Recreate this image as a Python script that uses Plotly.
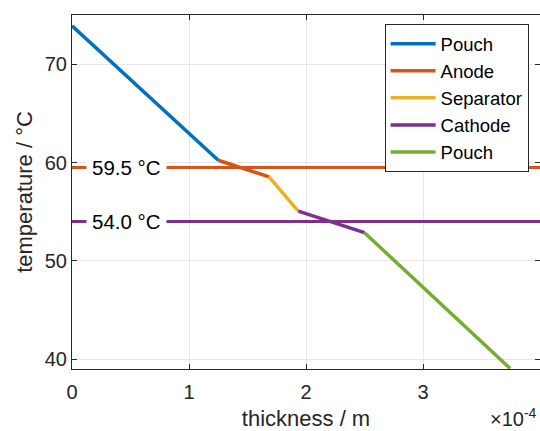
import plotly.graph_objects as go

# Data (thickness in m, temperature in °C)
segment_names = ["Pouch", "Anode", "Separator", "Cathode", "Pouch"]
segment_x = [
    [0.0, 1.25e-4],
    [1.25e-4, 1.684e-4],
    [1.684e-4, 1.934e-4],
    [1.934e-4, 2.50e-4],
    [2.50e-4, 3.745e-4],
]
segment_y = [
    [73.9, 60.23],
    [60.23, 58.54],
    [58.54, 55.06],
    [55.06, 52.86],
    [52.86, 39.05],
]
colors = ["#0072BD", "#D95319", "#EDB120", "#7E2F8E", "#77AC30"]

ref_values = [59.5, 54.0]
ref_colors = ["#D95319", "#7E2F8E"]
ref_labels = ["59.5 °C", "54.0 °C"]
ref_label_x = 0.465e-4

x_ticks = [0, 1e-4, 2e-4, 3e-4, 4e-4]
x_ticktext = ["0", "1", "2", "3", "4"]
y_ticks = [40, 50, 60, 70]

FONT = "Liberation Sans, Arial, Helvetica, sans-serif"
AX = "#262626"

fig = go.Figure()

for v, c in zip(ref_values, ref_colors):
    fig.add_trace(go.Scatter(x=[0, 4e-4], y=[v, v], mode="lines",
                             line=dict(color=c, width=3), showlegend=False,
                             hoverinfo="skip"))

for name, xs, ys, c in zip(segment_names, segment_x, segment_y, colors):
    fig.add_trace(go.Scatter(x=xs, y=ys, mode="lines", name=name,
                             line=dict(color=c, width=3.5)))

for v, lab in zip(ref_values, ref_labels):
    fig.add_annotation(x=ref_label_x, y=v, text=lab, showarrow=False,
                       font=dict(family=FONT, size=20.5, color="black"),
                       bgcolor="white", borderpad=5)

fig.add_annotation(x=1.0, y=0, xref="paper", yref="paper", xanchor="right",
                   yanchor="top", yshift=-34, xshift=-1,
                   text="×10<sup>-4</sup>", showarrow=False,
                   font=dict(family=FONT, size=20, color=AX))

axis_common = dict(showline=True, linecolor=AX, linewidth=1, mirror="ticks",
                   ticks="inside", ticklen=5, tickcolor=AX,
                   showgrid=True, gridcolor="#e6e6e6", gridwidth=1,
                   zeroline=False,
                   tickfont=dict(family=FONT, size=20, color=AX))

fig.update_xaxes(range=[0, 4e-4], tickvals=x_ticks, ticktext=x_ticktext,
                 ticklabelstandoff=5,
                 title=dict(text="thickness / m", standoff=9,
                            font=dict(family=FONT, size=22, color=AX)),
                 **axis_common)
fig.update_yaxes(range=[39, 75], tickvals=y_ticks,
                 title=dict(text="temperature / °C", standoff=6,
                            font=dict(family=FONT, size=22, color=AX)),
                 **axis_common)

fig.update_layout(
    width=540, height=431,
    margin=dict(l=72, r=0, t=15, b=62),
    paper_bgcolor="white", plot_bgcolor="white",
    font=dict(family=FONT, size=20, color=AX),
    legend=dict(x=0.668, y=0.974, xanchor="left", yanchor="top",
                bgcolor="white", bordercolor=AX, borderwidth=1,
                font=dict(family=FONT, size=18.5, color="black"),
                tracegroupgap=0, itemwidth=45),
    showlegend=True,
)

fig.write_html("out.html")
